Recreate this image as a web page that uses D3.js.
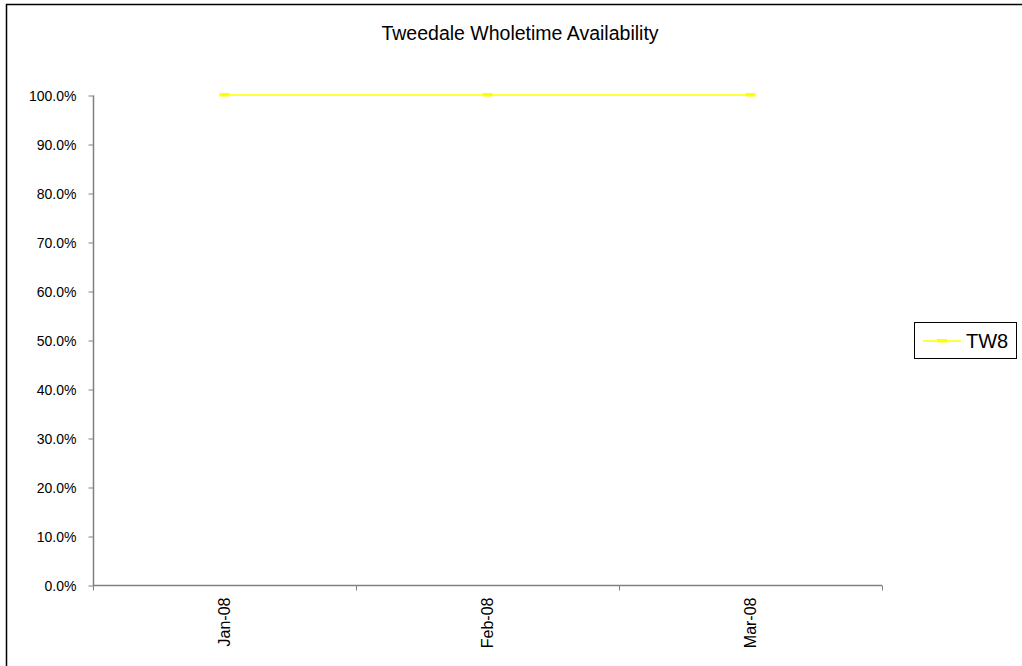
<!DOCTYPE html>
<html>
<head>
<meta charset="utf-8">
<script src="https://cdn.jsdelivr.net/npm/d3@7"></script>
<style>
  html, body { margin: 0; padding: 0; background: #fff; }
  svg { display: block; font-family: "Liberation Sans", Arial, sans-serif; }
</style>
</head>
<body>
<svg id="chart" width="1022" height="666"></svg>
<script>
// Monthly wholetime availability for Tweedale
const months = ["Jan-08", "Feb-08", "Mar-08"];
const seriesName = "TW8";
const tw8Values = [1.0, 1.0, 1.0];
const yTicks = [0, 0.1, 0.2, 0.3, 0.4, 0.5, 0.6, 0.7, 0.8, 0.9, 1.0];
const chartTitle = "Tweedale Wholetime Availability";

const svg = d3.select("#chart");
const W = 1022, H = 666;

// outer frame
svg.append("rect")
  .attr("x", 6.5).attr("y", 4.5)
  .attr("width", W + 10).attr("height", H + 10)
  .attr("fill", "#fff").attr("stroke", "#000").attr("stroke-width", 1.5);

const plot = { left: 93, right: 882, top: 95, bottom: 585 };

const x = d3.scaleBand().domain(months).range([plot.left, plot.right]);
const y = d3.scaleLinear().domain([0, 1]).range([plot.bottom, plot.top]);

// title
svg.append("text")
  .attr("x", 520).attr("y", 40)
  .attr("text-anchor", "middle")
  .attr("font-size", 19.5).attr("fill", "#000")
  .text(chartTitle);

// y axis
const yAxis = d3.axisLeft(y)
  .tickValues(yTicks)
  .tickFormat(d3.format(".1%"))
  .tickSize(5)
  .tickPadding(12);
const gy = svg.append("g").attr("transform", `translate(${plot.left + 0.5},0.5)`).call(yAxis);
gy.select(".domain").attr("stroke", "#808080").attr("stroke-width", 1.5).attr("d", `M0,${plot.top}V${plot.bottom}`);
gy.selectAll(".tick line").attr("stroke", "#808080");
gy.selectAll(".tick text").attr("font-size", 14).attr("fill", "#000")
  .attr("font-family", "Liberation Sans, Arial, sans-serif").attr("dy", "0.35em");

// x axis: ticks between categories
const xAxisG = svg.append("g").attr("transform", `translate(0,${plot.bottom + 0.5})`);
xAxisG.append("line")
  .attr("x1", plot.left).attr("x2", plot.right)
  .attr("stroke", "#808080").attr("stroke-width", 1.5);
const boundaries = months.map(m => x(m)).concat([x(months[months.length - 1]) + x.bandwidth()]);
xAxisG.selectAll("line.tick")
  .data(boundaries)
  .join("line")
  .attr("class", "tick")
  .attr("x1", d => Math.round(d) + 0.5).attr("x2", d => Math.round(d) + 0.5)
  .attr("y1", 0).attr("y2", 5)
  .attr("stroke", "#808080");
xAxisG.selectAll("text")
  .data(months)
  .join("text")
  .attr("transform", d => `translate(${x(d) + x.bandwidth() / 2 + 5.5},12) rotate(-90)`)
  .attr("text-anchor", "end")
  .attr("font-size", 16).attr("fill", "#000")
  .text(d => d);

// series line
const cx = d => x(d) + x.bandwidth() / 2;
const line = d3.line().x((d, i) => cx(months[i])).y(d => y(d));
svg.append("path")
  .datum(tw8Values)
  .attr("d", line)
  .attr("fill", "none")
  .attr("stroke", "#ffff00")
  .attr("stroke-width", 1.5);

// dash markers
svg.selectAll("rect.marker")
  .data(tw8Values)
  .join("rect")
  .attr("class", "marker")
  .attr("x", (d, i) => cx(months[i]) - 5)
  .attr("y", d => y(d) - 2)
  .attr("width", 10).attr("height", 3.5)
  .attr("fill", "#ffff00");

// legend
const lg = svg.append("g");
lg.append("rect")
  .attr("x", 914.5).attr("y", 322.5)
  .attr("width", 102).attr("height", 36)
  .attr("fill", "#fff").attr("stroke", "#000").attr("stroke-width", 1);
lg.append("line")
  .attr("x1", 923).attr("x2", 961).attr("y1", 341).attr("y2", 341)
  .attr("stroke", "#ffff00").attr("stroke-width", 1.5);
lg.append("rect")
  .attr("x", 937).attr("y", 339).attr("width", 10).attr("height", 3.5)
  .attr("fill", "#ffff00");
lg.append("text")
  .attr("x", 966).attr("y", 348)
  .attr("font-size", 20).attr("fill", "#000")
  .text(seriesName);
</script>
</body>
</html>
